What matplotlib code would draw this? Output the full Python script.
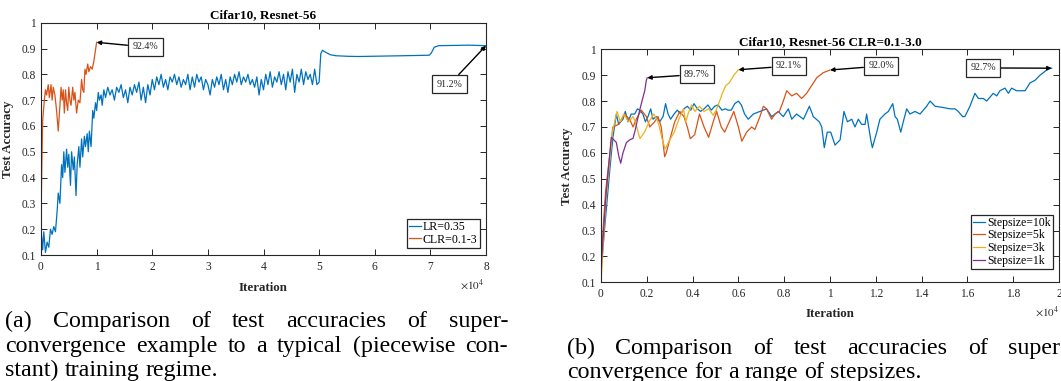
import matplotlib
matplotlib.use('Agg')
import matplotlib.pyplot as plt
from matplotlib.ticker import FixedLocator, FuncFormatter

# ---------------- data ----------------
# (a) Cifar10, Resnet-56
lr_iter = [0, 300, 500, 800, 1100, 1400, 1700, 2000, 2300, 2600, 2900, 3100, 3400, 3700, 3900,
           4100, 4300, 4600, 4800, 5000, 5300, 5500, 5800, 6000, 6300, 6500, 6800, 7000, 7300,
           7500, 7800, 8000, 8300, 8500, 8700, 9000, 9300, 9500, 9800, 10000, 10300, 10500,
           10800, 11000, 11300,
           11600, 12000, 12400, 12800, 13200, 13600, 14000, 14400, 14800, 15200, 15600, 16000,
           16400, 16800, 17200, 17600, 18000, 18400, 18800, 19200, 19600, 20000, 20400, 20800,
           21200, 21600, 22000, 22400, 22800, 23200, 23600, 24000, 24400, 24800, 25200, 25600,
           26000, 26400, 26800, 27200, 27600, 28000, 28400, 28800, 29200, 29600, 30000, 30400,
           30800, 31200, 31600, 32000, 32400, 32800, 33200, 33600, 34000, 34400, 34800, 35200,
           35600, 36000, 36400, 36800, 37200, 37600, 38000, 38400, 38800, 39200, 39600, 40000,
           40400, 40800, 41200, 41600, 42000, 42400, 42800, 43200, 43600, 44000, 44400, 44800,
           45200, 45600, 46000, 46400, 46800, 47200, 47600, 48000, 48400, 48800, 49200, 49600,
           50000, 50300, 50600, 51200, 52000, 53000, 55000, 57000, 60000, 65000, 69800, 70200,
           70700, 71500, 74000, 77000, 80000]
lr_acc = [0.20, 0.12, 0.19, 0.11, 0.15, 0.13, 0.20, 0.18, 0.21, 0.19, 0.27, 0.34, 0.30, 0.45, 0.40,
          0.50, 0.42, 0.51, 0.44, 0.49, 0.37, 0.50, 0.43, 0.48, 0.33, 0.45, 0.52, 0.44, 0.55,
          0.48, 0.56, 0.52, 0.57, 0.50, 0.58, 0.52, 0.66, 0.63, 0.69, 0.66, 0.73, 0.70,
          0.72, 0.68, 0.74,
          0.71, 0.75, 0.72, 0.74, 0.70, 0.75, 0.73, 0.76, 0.71, 0.74, 0.69, 0.75,
          0.72, 0.76, 0.73, 0.77, 0.70, 0.75, 0.69, 0.76, 0.72, 0.78, 0.74, 0.79,
          0.76, 0.80, 0.75, 0.78, 0.74, 0.79, 0.77, 0.80, 0.76, 0.79, 0.75, 0.78,
          0.76, 0.80, 0.74, 0.79, 0.75, 0.80, 0.77, 0.79, 0.74, 0.78, 0.76, 0.72,
          0.78, 0.75, 0.79, 0.76, 0.80, 0.74, 0.78, 0.73, 0.79, 0.76, 0.80, 0.77,
          0.81, 0.76, 0.79, 0.77, 0.80, 0.76, 0.78, 0.75, 0.79, 0.72, 0.78, 0.74,
          0.80, 0.76, 0.81, 0.75, 0.79, 0.77, 0.81, 0.76, 0.80, 0.74, 0.81, 0.77,
          0.82, 0.73, 0.80, 0.77, 0.82, 0.76, 0.81, 0.78, 0.80, 0.76, 0.82, 0.76,
          0.77, 0.88, 0.893, 0.885, 0.876, 0.872, 0.870, 0.869, 0.870, 0.872, 0.874, 0.884,
          0.905, 0.911, 0.912, 0.913, 0.911]

clr_iter = [0, 150, 300, 600, 800, 1000, 1300, 1500, 1800, 2000, 2200, 2500, 2800, 3100, 3400,
            3600, 3800, 4000, 4200, 4400, 4600, 4800, 5000, 5200, 5400, 5700, 5900, 6100, 6400,
            6700, 7000, 7300, 7500, 7700, 7900, 8100, 8400, 8600, 8900, 9200, 9500, 9700, 10000]
clr_acc = [0.23, 0.45, 0.62, 0.70, 0.74, 0.72, 0.76, 0.71, 0.76, 0.70, 0.75, 0.72, 0.66, 0.58, 0.68,
           0.75, 0.70, 0.74, 0.65, 0.74, 0.69, 0.66, 0.75, 0.70, 0.68, 0.75, 0.70, 0.73, 0.65,
           0.70, 0.69, 0.78, 0.74, 0.73, 0.82, 0.80, 0.84, 0.81, 0.83, 0.82, 0.85, 0.88, 0.924]

labels_a = ['LR=0.35', 'CLR=0.1-3']
notes_a = ['92.4%', '91.2%']

# (b) Cifar10, Resnet-56 CLR=0.1-3.0
s10_iter = [0, 160, 380, 520, 670, 770, 860, 960, 1060, 1180, 1320, 1470, 1590, 1690, 1830, 1940,
            2050, 2170, 2270, 2420, 2560, 2710, 2820, 2930, 3040, 3190, 3330, 3480, 3620, 3770,
            3920, 4060, 4210, 4350, 4500, 4670, 4820, 4960, 5110, 5280, 5430, 5550, 5690, 5840,
            6000, 6130, 6270, 6430, 6650, 6940, 7230, 7450, 7740, 7960, 8180, 8330, 8540, 8840,
            9100, 9270, 9530, 9640, 9750, 9880, 10030, 10220, 10440, 10610, 10760, 10950, 11090,
            11240, 11380, 11530, 11600, 11780, 11850, 12040, 12180, 12400, 12550, 12740, 12840,
            12940, 13090, 13200, 13350, 13490, 13710, 13930, 14220, 14370, 14590, 14950, 15240,
            15460, 15600, 15790, 15890, 16110, 16330, 16480, 16700, 16840, 17130, 17280, 17420,
            17640, 17790, 17930, 18150, 18370, 18520, 18730, 18950, 19170, 19320, 19530, 19680]
s10_acc = [0.14, 0.31, 0.53, 0.66, 0.75, 0.71, 0.72, 0.73, 0.76, 0.72, 0.75, 0.75, 0.77, 0.765, 0.75, 0.72,
           0.74, 0.77, 0.73, 0.74, 0.72, 0.74, 0.79, 0.75, 0.73, 0.75, 0.765, 0.75, 0.77, 0.78,
           0.765, 0.79, 0.77, 0.76, 0.77, 0.785, 0.765, 0.78, 0.785, 0.765, 0.77, 0.765, 0.765, 0.79,
           0.80, 0.785, 0.75, 0.73, 0.75, 0.76, 0.77, 0.74, 0.76, 0.74, 0.77, 0.73, 0.75, 0.73,
           0.78, 0.74, 0.72, 0.70, 0.62, 0.68, 0.68, 0.63, 0.65, 0.76, 0.72, 0.73, 0.70,
           0.73, 0.71, 0.71, 0.75, 0.65, 0.62, 0.68, 0.73, 0.75, 0.76, 0.79, 0.74,
           0.73, 0.68, 0.72, 0.77, 0.75, 0.76, 0.75, 0.78, 0.80, 0.78, 0.775, 0.77,
           0.77, 0.76, 0.74, 0.74, 0.78, 0.83, 0.81, 0.81, 0.80, 0.83, 0.82, 0.84,
           0.85, 0.83, 0.85, 0.84, 0.84, 0.84, 0.87, 0.88, 0.90, 0.91, 0.925, 0.927]

s5_iter = [0, 200, 520, 770, 1030, 1250, 1400, 1540, 1760, 1980, 2130, 2340, 2490, 2630, 2780, 2850,
           3000, 3220, 3440, 3620, 3770, 3900, 4090, 4300, 4500, 4700, 4900, 5050, 5250, 5400,
           5600, 5800, 6000, 6150, 6360, 6580, 6720, 6940, 7090, 7230, 7450, 7600, 7790, 7960,
           8110, 8330, 8540, 8760, 8980, 9200, 9420, 9710, 10000]
s5_acc = [0.18, 0.45, 0.70, 0.71, 0.75, 0.73, 0.70, 0.73, 0.765, 0.74, 0.70, 0.72, 0.74, 0.70, 0.585, 0.60,
          0.65, 0.72, 0.76, 0.74, 0.70, 0.655, 0.67, 0.75, 0.70, 0.66, 0.72, 0.76, 0.70, 0.68,
          0.72, 0.76, 0.70, 0.645, 0.68, 0.70, 0.69, 0.74, 0.78, 0.77, 0.73, 0.75, 0.76, 0.80,
          0.84, 0.82, 0.83, 0.81, 0.83, 0.86, 0.89, 0.91, 0.92]

s3_iter = [0, 200, 500, 700, 850, 1000, 1200, 1400, 1500, 1700, 1900, 2100, 2300, 2450, 2550, 2650,
           2800, 3000, 3200, 3400, 3600, 3700, 3800, 3950, 4100, 4300, 4500, 4700, 4900, 5000,
           5100, 5300, 5450, 5600, 5800, 6000]
s3_acc = [0.10, 0.40, 0.68, 0.76, 0.72, 0.75, 0.72, 0.74, 0.72, 0.655, 0.68, 0.72, 0.75, 0.73, 0.70, 0.66,
          0.615, 0.65, 0.68, 0.73, 0.77, 0.72, 0.75, 0.785, 0.76, 0.78, 0.76, 0.77, 0.745, 0.76,
          0.78, 0.83, 0.86, 0.87, 0.90, 0.921]

s1_iter = [0, 200, 450, 670, 770, 860, 960, 1110, 1250, 1400, 1500, 1590, 1690, 1790, 1910, 1980, 2020]
s1_acc = [0.15, 0.42, 0.66, 0.64, 0.59, 0.56, 0.60, 0.64, 0.65, 0.656, 0.69, 0.727, 0.765, 0.80, 0.84, 0.88, 0.89]

labels_b = ['Stepsize=10k', 'Stepsize=5k', 'Stepsize=3k', 'Stepsize=1k']
notes_b = ['92.7%', '92.0%', '92.1%', '89.7%']

caption_a = ['(a) Comparison of test accuracies of super-',
             'convergence example to a typical (piecewise con-',
             'stant) training regime.']
caption_b = ['(b) Comparison of test accuracies of super',
             'convergence for a range of stepsizes.']

# ---------------- style ----------------
W, H = 1061, 381
SERIF = ['Liberation Serif', 'DejaVu Serif']
plt.rcParams['font.family'] = SERIF
plt.rcParams['mathtext.fontset'] = 'stix'
DARK = '#262626'
C_BLUE, C_ORANGE, C_YELLOW, C_PURPLE = '#0072BD', '#D95319', '#EDB120', '#7E2F8E'

fig = plt.figure(figsize=(W / 100, H / 100), dpi=100)
fig.patch.set_facecolor('white')


def px_axes(x0, x1, ytop, ybot):
    return fig.add_axes([x0 / W, 1 - ybot / H, (x1 - x0) / W, (ybot - ytop) / H])


def style(ax, xmax, xstep):
    ax.set_xlim(0, xmax)
    ax.set_ylim(0.1, 1.0)
    xt = [i * xstep for i in range(int(round(xmax / xstep)) + 1)]
    yt = [round(0.1 * i, 1) for i in range(1, 11)]
    ax.xaxis.set_major_locator(FixedLocator(xt))
    ax.yaxis.set_major_locator(FixedLocator(yt))
    ax.xaxis.set_major_formatter(FuncFormatter(lambda v, p: f"{round(v / 1e4, 2):g}"))
    ax.yaxis.set_major_formatter(FuncFormatter(lambda v, p: f"{round(v, 2):g}"))
    ax.tick_params(direction='in', top=True, right=True, length=4, width=0.7,
                   labelsize=8.3, colors=DARK, labelcolor=DARK)
    ax.tick_params(axis='x', pad=4)
    for s in ax.spines.values():
        s.set_linewidth(0.8)
        s.set_color(DARK)
    ax.set_xlabel('Iteration', fontsize=9.3, fontweight='bold', color=DARK)
    ax.set_ylabel('Test Accuracy', fontsize=9.3, fontweight='bold', color=DARK)


def note(ax, text, xy, xytext):
    ax.annotate(text, xy=xy, xytext=xytext, fontsize=7.2, ha='center', va='center', color=DARK,
                bbox=dict(boxstyle='square,pad=0.45', fc='white', ec=DARK, lw=0.9),
                arrowprops=dict(arrowstyle='-|>', color='black', lw=1.0, mutation_scale=6,
                                shrinkA=0, shrinkB=0))


# ---- (a) ----
ax1 = px_axes(41, 486, 22.7, 255)
ax1.plot(lr_iter, lr_acc, color=C_BLUE, lw=0.9, label=labels_a[0])
ax1.plot(clr_iter, clr_acc, color=C_ORANGE, lw=0.9, label=labels_a[1])
style(ax1, 80000, 10000)
ax1.set_title('Cifar10, Resnet-56', fontsize=9.5, fontweight='bold', pad=3)
ax1.xaxis.set_label_coords(0.5, -0.116)
ax1.yaxis.set_label_coords(-0.061, 0.5)
ax1.text(0.995, -0.128, r'$\times10^4$', transform=ax1.transAxes, ha='right', va='center',
         fontsize=8, color=DARK)
leg = ax1.legend(loc='lower right', bbox_to_anchor=(0.9865, 0.03), fontsize=8.6, handlelength=1.0,
                 handletextpad=0.15, borderpad=0.2, labelspacing=0.05, fancybox=False,
                 edgecolor=DARK, borderaxespad=0, framealpha=1)
leg.get_frame().set_linewidth(0.9)
note(ax1, notes_a[0], (clr_iter[-1], clr_acc[-1]), (18740, 0.906))
note(ax1, notes_a[1], (lr_iter[-1], lr_acc[-1]), (73500, 0.7625))

# ---- (b) ----
ax2 = px_axes(601, 1059, 49.3, 282.3)
ax2.plot(s10_iter, s10_acc, color=C_BLUE, lw=0.9, label=labels_b[0])
ax2.plot(s5_iter, s5_acc, color=C_ORANGE, lw=0.9, label=labels_b[1])
ax2.plot(s3_iter, s3_acc, color=C_YELLOW, lw=0.9, label=labels_b[2])
ax2.plot(s1_iter, s1_acc, color=C_PURPLE, lw=0.9, label=labels_b[3])
style(ax2, 20000, 2000)
ax2.set_title('Cifar10, Resnet-56 CLR=0.1-3.0', fontsize=9.5, fontweight='bold', pad=3)
ax2.xaxis.set_label_coords(0.5, -0.110)
ax2.yaxis.set_label_coords(-0.061, 0.5)
ax2.text(1.0, -0.127, r'$\times10^4$', transform=ax2.transAxes, ha='right', va='center',
         fontsize=8, color=DARK)
leg2 = ax2.legend(loc='lower right', bbox_to_anchor=(0.987, 0.057), fontsize=8.5, handlelength=1.0,
                  handletextpad=0.15, borderpad=0.2, labelspacing=0.05, fancybox=False,
                  edgecolor=DARK, borderaxespad=0, framealpha=1)
leg2.get_frame().set_linewidth(0.9)
note(ax2, notes_b[0], (s10_iter[-1], s10_acc[-1]), (16680, 0.928))
note(ax2, notes_b[1], (s5_iter[-1], s5_acc[-1]), (12230, 0.9355))
note(ax2, notes_b[2], (s3_iter[-1], s3_acc[-1]), (8210, 0.9355))
note(ax2, notes_b[3], (s1_iter[-1], s1_acc[-1]), (4190, 0.903))

# ---- captions (justified) ----
CAP_FS = 17.3
renderer = fig.canvas.get_renderer()
SPACE = CAP_FS * 100 / 72 * 0.25


def put_line(text, x0, x1, base, justify):
    words = text.split(' ')
    arts = [fig.text(0, 1 - base / H, w, fontsize=CAP_FS, va='baseline', ha='left', color='black')
            for w in words]
    widths = [a.get_window_extent(renderer).width for a in arts]
    if justify and len(words) > 1:
        gap = (x1 - x0 - sum(widths)) / (len(words) - 1)
    else:
        gap = SPACE
    x = x0
    for a, w in zip(arts, widths):
        a.set_x(x / W)
        x += w + gap


put_line(caption_a[0], 5, 508, 327, True)
put_line(caption_a[1], 5, 508, 352, True)
put_line(caption_a[2], 5, 508, 376, False)
put_line(caption_b[0], 567, 1060, 354, True)
put_line(caption_b[1], 567, 1060, 378, False)

fig.savefig('out.png', dpi=100)
